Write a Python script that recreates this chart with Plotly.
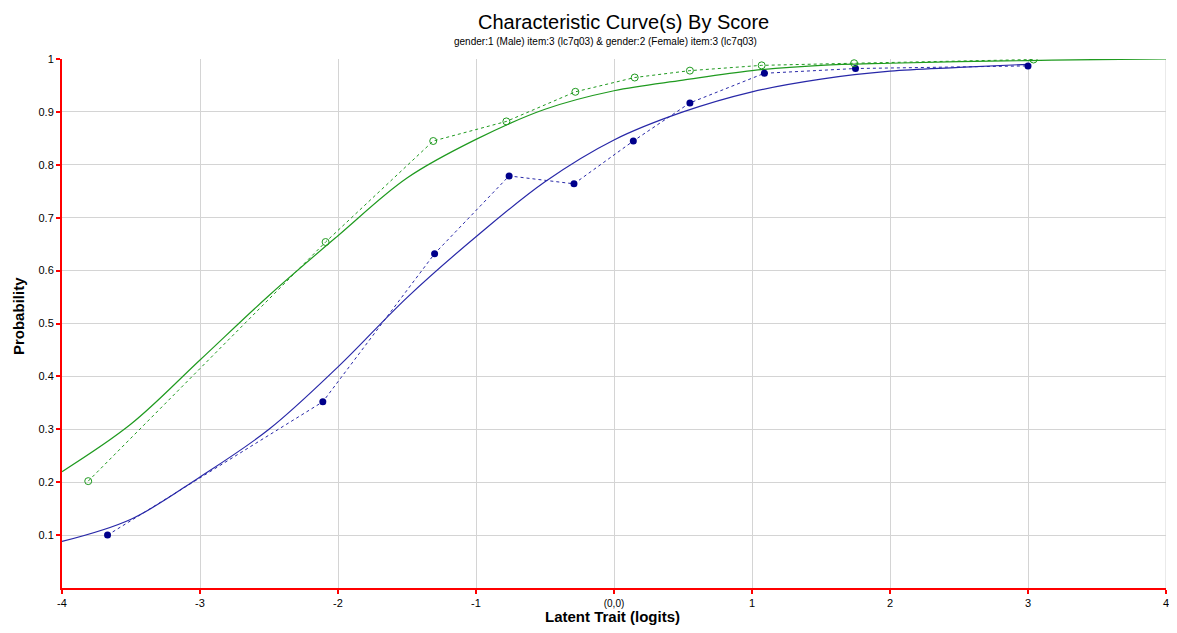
import plotly.graph_objects as go

male_x = [-3.67, -2.11, -1.30, -0.76, -0.29, 0.14, 0.55, 1.09, 1.75, 3.00]
male_y = [0.100, 0.352, 0.632, 0.779, 0.764, 0.845, 0.917, 0.973, 0.982, 0.987]

female_x = [-3.81, -2.09, -1.31, -0.78, -0.28, 0.15, 0.55, 1.07, 1.74, 3.04]
female_y = [0.202, 0.654, 0.845, 0.882, 0.938, 0.965, 0.978, 0.988, 0.992, 0.999]

# model curves (sampled from the chart)
male_curve_x = [-4, -3.5, -3, -2.5, -2, -1.5, -1, -0.5, 0, 0.5, 1, 1.5, 2, 2.5, 3]
male_curve_y = [0.088, 0.130, 0.210, 0.300, 0.418, 0.549, 0.664, 0.768, 0.847, 0.900,
                0.938, 0.962, 0.977, 0.984, 0.990]

female_curve_x = [-4, -3.5, -3, -2.5, -2, -1.5, -1, -0.5, 0, 0.5, 1, 1.5, 2, 2.5, 3, 3.5, 4]
female_curve_y = [0.220, 0.310, 0.431, 0.553, 0.666, 0.775, 0.848, 0.905, 0.940, 0.960,
                  0.978, 0.988, 0.992, 0.995, 0.997, 0.999, 1.0]

x_ticks = [-4, -3, -2, -1, 0, 1, 2, 3, 4]
x_labels = ['-4', '-3', '-2', '-1', "<span style='font-size:10px'>(0,0)</span>", '1', '2', '3', '4']
y_ticks = [0.1, 0.2, 0.3, 0.4, 0.5, 0.6, 0.7, 0.8, 0.9, 1.0]
y_labels = ['0.1', '0.2', '0.3', '0.4', '0.5', '0.6', '0.7', '0.8', '0.9', '1']

GREEN = '#1f9a1f'
BLUE = '#2828a8'
NAVY = '#00008b'
FONT = 'Liberation Sans, Arial, sans-serif'

fig = go.Figure()

fig.add_trace(go.Scatter(x=male_curve_x, y=male_curve_y, mode='lines',
                         line=dict(color=BLUE, width=1.2, shape='spline')))
fig.add_trace(go.Scatter(x=female_curve_x, y=female_curve_y, mode='lines',
                         line=dict(color=GREEN, width=1.2, shape='spline')))
fig.add_trace(go.Scatter(x=male_x, y=male_y, mode='lines+markers',
                         line=dict(color=BLUE, width=1, dash='3px,3px'),
                         marker=dict(color=NAVY, size=7, symbol='circle')))
fig.add_trace(go.Scatter(x=female_x, y=female_y, mode='lines+markers',
                         line=dict(color=GREEN, width=1, dash='3px,3px'),
                         marker=dict(color=GREEN, size=7, symbol='circle-open',
                                     line=dict(color=GREEN, width=1))))

# right-edge grid line (plotly drops grid lines sitting on the plot edge)
fig.add_shape(type='line', xref='x', yref='paper', x0=4, x1=4, y0=0, y1=1,
              line=dict(color='#d4d4d4', width=1), layer='below')

# the page shows the figure offset by 8px and clipped 8px before the window edge,
# so size it to fit that visible area
fig.update_layout(
    width=1161, height=617,
    margin=dict(l=54, r=3, t=51, b=37, autoexpand=False),
    plot_bgcolor='white', paper_bgcolor='white',
    showlegend=False,
    font=dict(family=FONT, size=11, color='black'),
    annotations=[
        dict(text='Characteristic Curve(s) By Score', x=0.509, y=1.070, xref='paper', yref='paper',
             xanchor='center', yanchor='middle', showarrow=False, font=dict(size=20)),
        dict(text='gender:1 (Male) item:3 (lc7q03) & gender:2 (Female) item:3 (lc7q03)',
             x=0.492, y=1.034, xref='paper', yref='paper',
             xanchor='center', yanchor='middle', showarrow=False, font=dict(size=10)),
        dict(text='<b>Probability</b>', x=-0.0399, y=0.514, xref='paper', yref='paper',
             textangle=-90, xanchor='center', yanchor='middle', showarrow=False,
             font=dict(size=15)),
        dict(text='<b>Latent Trait (logits)</b>', x=0.499, y=-0.0548, xref='paper', yref='paper',
             xanchor='center', yanchor='middle', showarrow=False, font=dict(size=15)),
    ],
)

fig.update_xaxes(range=[-4, 4], tickvals=x_ticks, ticktext=x_labels,
                 showgrid=True, gridcolor='#d4d4d4', gridwidth=1, zeroline=False,
                 showline=True, linecolor='red', linewidth=2,
                 ticks='outside', tickcolor='red', ticklen=4, tickwidth=2,
                 ticklabeloverflow='allow', automargin=False)
fig.update_yaxes(range=[0, 1], tickvals=y_ticks, ticktext=y_labels,
                 showgrid=True, gridcolor='#d4d4d4', gridwidth=1, zeroline=False,
                 showline=True, linecolor='red', linewidth=2,
                 ticks='outside', tickcolor='red', ticklen=4, tickwidth=2, automargin=False)

fig.write_html("out.html")
